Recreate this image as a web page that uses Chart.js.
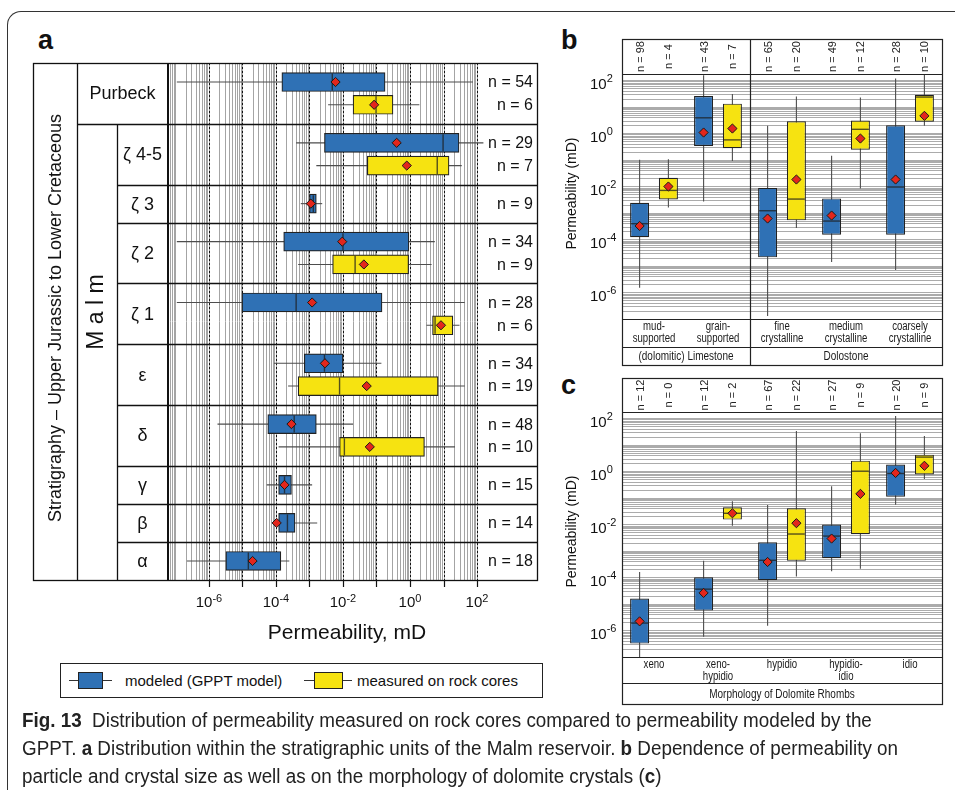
<!DOCTYPE html>
<html>
<head>
<meta charset="utf-8">
<title>Permeability distribution</title>
<script src="https://cdn.jsdelivr.net/npm/chart.js@4.4.1/dist/chart.umd.min.js"></script>
<style>
  html, body { margin: 0; padding: 0; background: #fff; }
  body { position: relative; width: 955px; height: 790px; overflow: hidden; font-family: "Liberation Sans", Arial, sans-serif; color: #111; }
  canvas { position: absolute; }
  .box { position: absolute; left: 7px; top: 11px; width: 990px; height: 830px; border-top: 1.5px solid #333; border-left: 1.5px solid #333; border-top-left-radius: 14px; }
  .letter { position: absolute; font-weight: bold; font-size: 27px; line-height: 1; }
  .legend { position: absolute; left: 60px; top: 663px; width: 481px; height: 33px; border: 1px solid #222; font-size: 15px; }
  .legend .whisker { position: absolute; height: 1px; top: 16px; background: #333; }
  .legend .swatch { position: absolute; top: 8px; height: 17px; border: 1px solid #222; box-sizing: border-box; }
  .legend .label { position: absolute; top: 0; line-height: 33px; white-space: nowrap; }
  .caption { position: absolute; left: 22px; top: 706px; font-size: 20px; line-height: 28px; white-space: nowrap; color: #222; transform-origin: 0 0; }
  .caption span { display: block; }
</style>
</head>
<body>
<div class="box"></div>
<div class="letter" style="left:38px; top:27px;">a</div>
<div class="letter" style="left:561px; top:27px;">b</div>
<div class="letter" style="left:561px; top:372px;">c</div>

<canvas id="chartA" width="555" height="660" style="left:0; top:0;"></canvas>
<canvas id="chartB" width="400" height="370" style="left:555px; top:0;"></canvas>
<canvas id="chartC" width="400" height="340" style="left:555px; top:370px;"></canvas>

<div class="legend">
  <div class="whisker" style="left:8px; width:43px;"></div>
  <div class="swatch" style="left:17px; width:25px; background:#2f71b5;"></div>
  <div class="label" style="left:64px;">modeled (GPPT model)</div>
  <div class="whisker" style="left:243px; width:48px;"></div>
  <div class="swatch" style="left:253px; width:29px; background:#f6e311;"></div>
  <div class="label" style="left:296px;">measured on rock cores</div>
</div>

<div class="caption" id="caption"><span id="capFirst"><b>Fig. 13</b>&nbsp; Distribution of permeability measured on rock cores compared to permeability modeled by the</span><span>GPPT. <b>a</b> Distribution within the stratigraphic units of the Malm reservoir. <b>b</b> Dependence of permeability on</span><span>particle and crystal size as well as on the morphology of dolomite crystals (<b>c</b>)</span></div>

<script>
// ---- a: stratigraphic units of the Malm reservoir ----
const unitNames = ['Purbeck', 'ζ 4-5', 'ζ 3', 'ζ 2', 'ζ 1', 'ε', 'δ', 'γ', 'β', 'α'];
// box stats: [lower whisker, Q1, median, Q3, upper whisker], permeability in mD
const unitModeled = [
  [1.1e-7, 1.5e-4, 4.8e-3, 0.18, 76],
  [4e-4, 2.8e-3, 9.7, 29, 155],
  [5.5e-4, 1.0e-3, 1.3e-3, 1.6e-3, 2.4e-3],
  [1.1e-7, 1.7e-4, 0.01, 0.93, 5.5],
  [1.1e-7, 9.7e-6, 4e-4, 0.146, 43],
  [8.7e-5, 7e-4, 2.8e-3, 0.01, 0.14],
  [1.8e-6, 5.7e-5, 3.5e-4, 1.6e-3, 0.02],
  [5.3e-5, 1.2e-4, 1.8e-4, 2.9e-4, 1.2e-3],
  [1.2e-4, 1.2e-4, 2.2e-4, 3.7e-4, 1.7e-3],
  [2.2e-7, 3.2e-6, 1.5e-5, 1.4e-4, 2.5e-4]
];
const unitModeledMean = [6e-3, 0.4, 1.1e-3, 9.5e-3, 1.2e-3, 2.9e-3, 2.9e-4, 1.8e-4, 1.05e-4, 2e-5];
const unitModeledN = [54, 29, 9, 34, 28, 34, 48, 15, 14, 18];
const unitMeasured = [
  [3.6e-3, 0.02, 0.097, 0.31, 1.9],
  [1.6e-3, 0.053, 6.5, 14.6, 35],
  null,
  [4.6e-4, 4.9e-3, 0.023, 0.91, 4.4],
  [3.1, 4.7, 5.6, 19, 30],
  [2.3e-4, 4.6e-4, 7.9e-3, 6.9, 43],
  [1.2e-4, 7.9e-3, 0.011, 2.7, 22],
  null, null, null
];
const unitMeasuredMean = [0.085, 0.8, null, 0.042, 8.4, 0.051, 0.063, null, null, null];
const unitMeasuredN = [6, 7, null, 9, 6, 19, 10, null, null, null];

// ---- b: particle and crystal size ----
const textureNames = [['mud-', 'supported'], ['grain-', 'supported'], ['fine', 'crystalline'], ['medium', 'crystalline'], ['coarsely', 'crystalline']];
const textureGroups = ['(dolomitic) Limestone', 'Dolostone'];
const textureGroupSize = [2, 3];
const textureModeled = [
  [1.5e-6, 1.2e-4, 3.9e-4, 2.4e-3, 0.1],
  [2.7e-3, 0.33, 3.8, 25, 154],
  [1.3e-7, 2.1e-5, 1.2e-3, 8.7e-3, 1.9],
  [1.4e-5, 1.5e-4, 4.9e-4, 3.5e-3, 0.14],
  [7e-6, 1.5e-4, 9.4e-3, 2.0, 115]
];
const textureModeledMean = [3.2e-4, 1.06, 6.1e-4, 7.9e-4, 0.018];
const textureModeledN = [98, 43, 65, 49, 28];
const textureMeasured = [
  [1.6e-3, 3.2e-3, 7e-3, 0.021, 0.105],
  [0.089, 0.27, 0.56, 13, 30],
  [2.7e-4, 5.2e-4, 3.3e-3, 2.8, 24],
  [8.2e-3, 0.24, 1.4, 3.0, 22],
  [1.9, 2.7, 23, 28, 155]
];
const textureMeasuredMean = [9.8e-3, 1.5, 0.018, 0.63, 4.5];
const textureMeasuredN = [4, 7, 20, 12, 10];

// ---- c: morphology of dolomite rhombs ----
const morphNames = [['xeno'], ['xeno-', 'hypidio'], ['hypidio'], ['hypidio-', 'idio'], ['idio']];
const morphGroups = ['Morphology of Dolomite Rhombs'];
const morphGroupSize = [5];
const morphModeled = [
  [9.4e-8, 3.2e-7, 1.9e-6, 1.6e-5, 1.6e-4],
  [5.8e-7, 5.6e-6, 3.6e-5, 1.0e-4, 4.2e-4],
  [1.5e-6, 7.9e-5, 4.4e-4, 2.1e-3, 0.053],
  [1.7e-4, 5.3e-4, 3.6e-3, 9.8e-3, 0.27],
  [0.054, 0.11, 0.82, 1.8, 120]
];
const morphModeledMean = [2.2e-6, 2.6e-5, 3.8e-4, 2.9e-3, 0.86];
const morphModeledN = [12, 12, 67, 27, 20];
const morphMeasured = [
  null,
  [8.9e-3, 0.015, 0.026, 0.044, 0.073],
  [1.07e-4, 4.2e-4, 4.3e-3, 0.04, 33],
  [2.1e-4, 4.2e-3, 1.0, 2.5, 27],
  [0.51, 0.75, 3.4, 4.2, 21]
];
const morphMeasuredMean = [null, 0.026, 0.011, 0.14, 1.6];
const morphMeasuredN = [0, 2, 22, 9, 9];

// axis ticks
const permDecades = [1e-6, 1e-5, 1e-4, 1e-3, 1e-2, 1e-1, 1, 10, 100];
const permLabels = [1e-6, 1e-4, 1e-2, 1, 100];

const SANS = '"Liberation Sans", Arial, sans-serif';
const BLUE = '#2f71b5';
const YELLOW = '#f6e311';

// 1..9 x 10^k steps between min and max
function logSteps(min, max) {
  const out = [];
  for (let e = Math.floor(Math.log10(min)); e <= Math.ceil(Math.log10(max)); e++) {
    for (let m = 1; m <= 9; m++) {
      const v = m * Math.pow(10, e);
      if (v >= min * 0.999 && v <= max) out.push(v);
    }
  }
  return out;
}

function line(ctx, x1, y1, x2, y2) {
  ctx.beginPath();
  ctx.moveTo(x1, y1);
  ctx.lineTo(x2, y2);
  ctx.stroke();
}

// condensed label: squeeze the sans face horizontally
function fillNarrow(ctx, text, x, y, size) {
  ctx.save();
  ctx.translate(x, y);
  ctx.scale(0.8, 1);
  ctx.font = size + 'px ' + SANS;
  ctx.textAlign = 'center';
  ctx.textBaseline = 'middle';
  ctx.fillText(text, 0, 0);
  ctx.restore();
}

// "10" with a raised exponent
function drawPower(ctx, value, x, y, align, size, rise) {
  const exp = String(Math.round(Math.log10(value)));
  const sup = Math.round(size * 0.7);
  ctx.font = size + 'px ' + SANS;
  const wb = ctx.measureText('10').width;
  ctx.font = sup + 'px ' + SANS;
  const ws = ctx.measureText(exp).width;
  const x0 = align === 'center' ? x - (wb + ws) / 2 : x;
  ctx.textAlign = 'left';
  ctx.textBaseline = 'alphabetic';
  ctx.font = size + 'px ' + SANS;
  ctx.fillText('10', x0, y);
  ctx.font = sup + 'px ' + SANS;
  ctx.fillText(exp, x0 + wb, y - rise);
}

// whiskers behind the boxes, medians and mean diamonds on top
const boxParts = {
  id: 'boxParts',
  beforeDatasetsDraw(chart) {
    const ctx = chart.ctx;
    const horiz = chart.options.indexAxis === 'y';
    const vs = horiz ? chart.scales.x : chart.scales.y;
    ctx.save();
    ctx.strokeStyle = '#4d4d4d';
    ctx.lineWidth = 1.1;
    chart.data.datasets.forEach((ds, i) => {
      chart.getDatasetMeta(i).data.forEach((el, j) => {
        const s = ds.stats[j];
        if (!s) return;
        const a = vs.getPixelForValue(s[0]);
        const b = vs.getPixelForValue(s[4]);
        if (horiz) line(ctx, a, el.y, b, el.y);
        else line(ctx, el.x, a, el.x, b);
      });
    });
    ctx.restore();
  },
  afterDatasetsDraw(chart) {
    const ctx = chart.ctx;
    const horiz = chart.options.indexAxis === 'y';
    const vs = horiz ? chart.scales.x : chart.scales.y;
    ctx.save();
    chart.data.datasets.forEach((ds, i) => {
      chart.getDatasetMeta(i).data.forEach((el, j) => {
        const s = ds.stats[j];
        if (!s) return;
        const half = (horiz ? el.height : el.width) / 2 - 1;
        const m = vs.getPixelForValue(s[2]);
        ctx.strokeStyle = 'rgba(30,30,30,0.75)';
        ctx.lineWidth = 1.4;
        if (horiz) line(ctx, m, el.y - half, m, el.y + half);
        else line(ctx, el.x - half, m, el.x + half, m);

        const mean = ds.means[j];
        if (mean == null) return;
        const p = vs.getPixelForValue(mean);
        const cx = horiz ? p : el.x;
        const cy = horiz ? el.y : p;
        const r = 4.6;
        ctx.beginPath();
        ctx.moveTo(cx, cy - r);
        ctx.lineTo(cx + r, cy);
        ctx.lineTo(cx, cy + r);
        ctx.lineTo(cx - r, cy);
        ctx.closePath();
        ctx.fillStyle = '#e3261c';
        ctx.fill();
        ctx.strokeStyle = '#1a1a1a';
        ctx.lineWidth = 1;
        ctx.stroke();
      });
    });
    ctx.restore();
  }
};

// ---- a: row layout on the linear y scale ----
const rowGap = 0.67;
let cursor = 0;
const unitRows = unitNames.map((name, i) => {
  const slots = unitMeasured[i] ? 2 : 1;
  const start = cursor;
  cursor += slots + rowGap;
  return { start, end: cursor, mid: (start + cursor) / 2, slot: [start + rowGap / 2 + 0.5, start + rowGap / 2 + 1.5] };
});
const rowTotal = cursor;
const measIdx = unitNames.map((_, i) => i).filter(i => unitMeasured[i]);

const permGrid = {
  id: 'permGrid',
  beforeDatasetsDraw(chart) {
    const { ctx, chartArea: { top, bottom }, scales: { x } } = chart;
    ctx.save();
    ctx.strokeStyle = '#a4a4a4';
    ctx.lineWidth = 1;
    logSteps(x.min, x.max).forEach(v => {
      const px = Math.round(x.getPixelForValue(v)) + 0.5;
      line(ctx, px, top, px, bottom);
    });
    ctx.strokeStyle = '#111';
    ctx.setLineDash([2, 2]);
    permDecades.forEach(v => {
      const px = Math.round(x.getPixelForValue(v)) + 0.5;
      line(ctx, px, top, px, bottom);
    });
    ctx.restore();
  }
};

const stratTable = {
  id: 'stratTable',
  afterDraw(chart) {
    const { ctx, chartArea: { left, top, bottom }, scales: { x, y } } = chart;
    const colStrat = 33, colMalm = 77, colUnit = 117, tableRight = 537;
    ctx.save();
    ctx.strokeStyle = '#111';
    ctx.lineWidth = 1.3;
    ctx.strokeRect(colStrat + 0.5, top + 0.5, tableRight - colStrat, bottom - top);
    line(ctx, colMalm + 0.5, top, colMalm + 0.5, bottom);
    const firstEnd = Math.round(y.getPixelForValue(unitRows[0].end)) + 0.5;
    line(ctx, colUnit + 0.5, firstEnd, colUnit + 0.5, bottom);
    unitRows.forEach((r, i) => {
      if (i === unitRows.length - 1) return;
      const py = Math.round(y.getPixelForValue(r.end)) + 0.5;
      line(ctx, i === 0 ? colMalm : colUnit, py, tableRight, py);
    });
    ctx.lineWidth = 2;
    line(ctx, left, top, left, bottom);

    ctx.fillStyle = '#111';
    ctx.textBaseline = 'middle';
    ctx.textAlign = 'center';
    ctx.font = '18px ' + SANS;
    unitRows.forEach((r, i) => {
      const cx = i === 0 ? (colMalm + left) / 2 : (colUnit + left) / 2;
      ctx.fillText(unitNames[i], cx, y.getPixelForValue(r.mid) + 1);
    });

    ctx.save();
    ctx.translate((colStrat + colMalm) / 2 + 1, 318);
    ctx.rotate(-Math.PI / 2);
    ctx.font = '18px ' + SANS;
    ctx.fillText('Stratigraphy – Upper Jurassic to Lower Cretaceous', 0, 0);
    ctx.restore();

    ctx.save();
    ctx.translate((colMalm + colUnit) / 2, 312);
    ctx.rotate(-Math.PI / 2);
    ctx.font = '23px ' + SANS;
    ctx.fillText('M a l m', 0, 0);
    ctx.restore();

    // sample counts
    ctx.textAlign = 'right';
    ctx.font = '16px ' + SANS;
    chart.data.datasets.forEach((ds, i) => {
      chart.getDatasetMeta(i).data.forEach((el, j) => {
        ctx.fillText('n = ' + ds.counts[j], tableRight - 4, el.y + 1);
      });
    });

    // permeability axis
    ctx.lineWidth = 1.2;
    ctx.strokeStyle = '#111';
    permDecades.forEach(v => {
      const px = Math.round(x.getPixelForValue(v)) + 0.5;
      line(ctx, px, bottom, px, bottom + 7);
    });
    permLabels.forEach(v => drawPower(ctx, v, x.getPixelForValue(v), bottom + 27, 'center', 15, 5.5));
    ctx.textAlign = 'center';
    ctx.textBaseline = 'alphabetic';
    ctx.font = '21px ' + SANS;
    ctx.fillText('Permeability, mD', 347, bottom + 59);
    ctx.restore();
  }
};

new Chart(document.getElementById('chartA'), {
  type: 'bar',
  data: {
    datasets: [
      {
        label: 'modeled (GPPT model)',
        data: unitModeled.map((s, i) => ({ x: [s[1], s[3]], y: unitRows[i].slot[0] })),
        stats: unitModeled,
        means: unitModeledMean,
        counts: unitModeledN,
        backgroundColor: BLUE
      },
      {
        label: 'measured on rock cores',
        data: measIdx.map(i => ({ x: [unitMeasured[i][1], unitMeasured[i][3]], y: unitRows[i].slot[1] })),
        stats: measIdx.map(i => unitMeasured[i]),
        means: measIdx.map(i => unitMeasuredMean[i]),
        counts: measIdx.map(i => unitMeasuredN[i]),
        backgroundColor: YELLOW
      }
    ]
  },
  options: {
    indexAxis: 'y',
    responsive: false,
    animation: false,
    events: [],
    layout: { padding: { left: 168, right: 70, top: 63, bottom: 80 } },
    datasets: { bar: { grouped: false, barThickness: 19, borderColor: '#222', borderWidth: 1.2, borderSkipped: false } },
    scales: {
      x: { type: 'logarithmic', min: 6.4e-8, max: 173, display: false },
      y: { type: 'linear', min: 0, max: rowTotal, reverse: true, offset: false, display: false }
    },
    plugins: { legend: { display: false }, tooltip: { enabled: false } }
  },
  plugins: [permGrid, boxParts, stratTable]
});

// ---- b and c: vertical box panels with header counts and category table ----
function panelDecor(names, groups, groupSize, headerH, catH, groupH) {
  return {
    id: 'panelDecor',
    beforeDatasetsDraw(chart) {
      const { ctx, chartArea: { left, right }, scales: { y } } = chart;
      ctx.save();
      ctx.strokeStyle = '#ababab';
      ctx.lineWidth = 1;
      logSteps(y.min, y.max).forEach(v => {
        const py = Math.round(y.getPixelForValue(v)) + 0.5;
        line(ctx, left, py, right, py);
      });
      ctx.restore();
    },
    afterDraw(chart) {
      const { ctx, chartArea: { left, right, top, bottom }, scales: { x, y } } = chart;
      const fTop = top - headerH, catBottom = bottom + catH, fBottom = catBottom + groupH;
      ctx.save();
      ctx.strokeStyle = '#222';
      ctx.lineWidth = 1.2;
      ctx.strokeRect(left + 0.5, fTop + 0.5, right - left, fBottom - fTop);
      [top, bottom, catBottom].forEach(v => line(ctx, left, v + 0.5, right, v + 0.5));
      ctx.fillStyle = '#1a1a1a';
      let k = 0;
      groupSize.forEach((n, g) => {
        const a = k === 0 ? left : (x.getPixelForValue(k - 1) + x.getPixelForValue(k)) / 2;
        k += n;
        const b = k >= names.length ? right : (x.getPixelForValue(k - 1) + x.getPixelForValue(k)) / 2;
        if (k < names.length) line(ctx, Math.round(b) + 0.5, fTop, Math.round(b) + 0.5, fBottom);
        fillNarrow(ctx, groups[g], (a + b) / 2, catBottom + groupH / 2 + 1, 12.5);
      });

      names.forEach((parts, i) => {
        parts.forEach((t, r) => fillNarrow(ctx, t, x.getPixelForValue(i), bottom + 8 + r * 11.5, 12));
      });

      // rotated sample counts in the header
      ctx.font = '11px ' + SANS;
      ctx.textAlign = 'center';
      ctx.textBaseline = 'middle';
      ctx.fillStyle = '#222';
      const metas = chart.data.datasets.map((_, i) => chart.getDatasetMeta(i));
      chart.data.datasets.forEach((ds, i) => {
        metas[i].data.forEach((el, j) => {
          let cx = el.x;
          if (!isFinite(cx)) cx = metas[0].data[j].x + (metas[1].data[1].x - metas[0].data[1].x);
          ctx.save();
          ctx.translate(cx + 1, top - headerH / 2);
          ctx.rotate(-Math.PI / 2);
          ctx.fillText('n = ' + ds.counts[j], 0, 0);
          ctx.restore();
        });
      });

      // permeability axis labels
      ctx.fillStyle = '#111';
      permLabels.forEach(v => drawPower(ctx, v, left - 32, y.getPixelForValue(v) + 8.5, 'left', 15, 6.5));
      ctx.save();
      ctx.translate(17, (top + bottom) / 2 - 3);
      ctx.rotate(-Math.PI / 2);
      ctx.textAlign = 'center';
      ctx.textBaseline = 'middle';
      ctx.font = '14px ' + SANS;
      ctx.fillText('Permeability (mD)', 0, 0);
      ctx.restore();
      ctx.restore();
    }
  };
}

function boxPanel(id, names, groups, groupSize, modeled, modeledMean, modeledN, measured, measuredMean, measuredN, pad, headerH, catH, groupH) {
  return new Chart(document.getElementById(id), {
    type: 'bar',
    data: {
      labels: names.map(p => p.join(' ')),
      datasets: [
        { label: 'modeled (GPPT model)', data: modeled.map(s => [s[1], s[3]]), stats: modeled, means: modeledMean, counts: modeledN, backgroundColor: BLUE },
        { label: 'measured on rock cores', data: measured.map(s => (s ? [s[1], s[3]] : null)), stats: measured, means: measuredMean, counts: measuredN, backgroundColor: YELLOW }
      ]
    },
    options: {
      responsive: false,
      animation: false,
      events: [],
      layout: { padding: pad },
      datasets: { bar: { categoryPercentage: 0.9, barPercentage: 0.66, borderColor: '#222', borderWidth: 1.2, borderSkipped: false } },
      scales: {
        x: { display: false },
        y: { type: 'logarithmic', min: 1e-7, max: 170, display: false }
      },
      plugins: { legend: { display: false }, tooltip: { enabled: false } }
    },
    plugins: [panelDecor(names, groups, groupSize, headerH, catH, groupH), boxParts]
  });
}

boxPanel('chartB', textureNames, textureGroups, textureGroupSize,
  textureModeled, textureModeledMean, textureModeledN,
  textureMeasured, textureMeasuredMean, textureMeasuredN,
  { left: 67, right: 13, top: 74, bottom: 51 }, 35, 28, 18);

boxPanel('chartC', morphNames, morphGroups, morphGroupSize,
  morphModeled, morphModeledMean, morphModeledN,
  morphMeasured, morphMeasuredMean, morphMeasuredN,
  { left: 67, right: 13, top: 42, bottom: 53 }, 34, 26, 21);

// caption set in a condensed width: first line spans the text column
const caption = document.getElementById('caption');
const firstWidth = document.getElementById('capFirst').getBoundingClientRect().width;
caption.style.transform = 'scaleX(' + (876 / firstWidth) + ')';
</script>
</body>
</html>
